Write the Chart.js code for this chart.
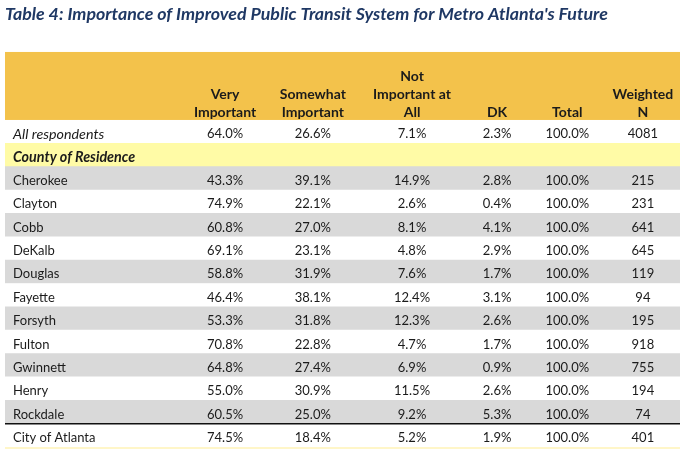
<!DOCTYPE html>
<html>
<head>
<meta charset="utf-8">
<script src="https://cdn.jsdelivr.net/npm/chart.js@4"></script>
<style>
  html, body { margin: 0; padding: 0; background: #ffffff; }
  #wrap { width: 680px; height: 450px; }
</style>
</head>
<body>
<div id="wrap"><canvas id="myChart"></canvas></div>
<script>
// rows of the table (top to bottom)
const rowLabels = ["All respondents", "County of Residence", "Cherokee", "Clayton", "Cobb", "DeKalb",
  "Douglas", "Fayette", "Forsyth", "Fulton", "Gwinnett", "Henry", "Rockdale", "City of Atlanta"];

// column headers
const headerLabels = [["Very", "Important"], ["Somewhat", "Important"], ["Not", "Important at", "All"],
  "DK", "Total", ["Weighted", "N"]];

// values per column (null = section header row)
const veryImportant = [64.0, null, 43.3, 74.9, 60.8, 69.1, 58.8, 46.4, 53.3, 70.8, 64.8, 55.0, 60.5, 74.5];
const somewhatImportant = [26.6, null, 39.1, 22.1, 27.0, 23.1, 31.9, 38.1, 31.8, 22.8, 27.4, 30.9, 25.0, 18.4];
const notImportant = [7.1, null, 14.9, 2.6, 8.1, 4.8, 7.6, 12.4, 12.3, 4.7, 6.9, 11.5, 9.2, 5.2];
const dontKnow = [2.3, null, 2.8, 0.4, 4.1, 2.9, 1.7, 3.1, 2.6, 1.7, 0.9, 2.6, 5.3, 1.9];
const total = [100.0, null, 100.0, 100.0, 100.0, 100.0, 100.0, 100.0, 100.0, 100.0, 100.0, 100.0, 100.0, 100.0];
const weightedN = [4081, null, 215, 231, 641, 645, 119, 94, 195, 918, 755, 194, 74, 401];

// layout: where each value column sits on the 0..100 x scale
const colPos = [32.6, 45.6, 60.3, 72.9, 83.3, 94.5];
const columns = [veryImportant, somewhatImportant, notImportant, dontKnow, total, weightedN];
const isPercent = [true, true, true, true, true, false];

const HEADER = "#F3C24B";
const SECTION = "#FFFBA6";
const GRAY = "#D9D9D9";
const TEXT = "#1b1b1b";
const FONT = "Lato, 'Open Sans', sans-serif";
const rowFill = ["#ffffff", SECTION, GRAY, "#ffffff", GRAY, "#ffffff", GRAY, "#ffffff",
  GRAY, "#ffffff", GRAY, "#ffffff", GRAY, "#ffffff"];
const rowFont = ["italic 14.3px " + FONT, "italic bold 14.3px " + FONT];

Chart.defaults.font.family = FONT;

const tablePlugin = {
  id: "tableCells",
  beforeDraw(chart) {
    const ctx = chart.ctx;
    const x = chart.scales.x;
    ctx.save();
    ctx.fillStyle = HEADER;
    ctx.fillRect(x.left, x.top, x.right - x.left, x.bottom - x.top);
    ctx.restore();
  },
  afterDatasetsDraw(chart) {
    const ctx = chart.ctx;
    const x = chart.scales.x;
    const y = chart.scales.y;
    const area = chart.chartArea;
    ctx.save();
    ctx.fillStyle = TEXT;
    ctx.textBaseline = "middle";
    // row labels from the y axis
    ctx.textAlign = "left";
    y.ticks.forEach((t, i) => {
      ctx.font = rowFont[i] || "13px " + FONT;
      ctx.fillText(y.getLabelForValue(t.value), area.left + 8, y.getPixelForTick(i) + 2.5);
    });
    // cell values
    ctx.font = "13px " + FONT;
    ctx.textAlign = "center";
    columns.forEach((vals, c) => {
      const px = x.getPixelForValue(colPos[c]);
      vals.forEach((v, r) => {
        if (v === null) return;
        const txt = isPercent[c] ? v.toFixed(1) + "%" : String(v);
        ctx.fillText(txt, px, y.getPixelForValue(r) + 2.5);
      });
    });
    // rule above City of Atlanta
    const last = rowLabels.length - 1;
    const yLine = (y.getPixelForValue(last - 1) + y.getPixelForValue(last)) / 2;
    ctx.strokeStyle = "#111111";
    ctx.lineWidth = 1.5;
    ctx.beginPath();
    ctx.moveTo(area.left, yLine);
    ctx.lineTo(area.right, yLine);
    ctx.stroke();
    // thin closing rule
    ctx.strokeStyle = "#FFF6C8";
    ctx.lineWidth = 2;
    ctx.beginPath();
    ctx.moveTo(area.left, area.bottom + 1);
    ctx.lineTo(area.right, area.bottom + 1);
    ctx.stroke();
    ctx.restore();
  }
};

new Chart("myChart", {
  type: "bar",
  data: {
    labels: rowLabels,
    datasets: [{
      data: rowLabels.map(() => [0, 100]),
      backgroundColor: rowFill,
      borderWidth: 0,
      barPercentage: 1,
      categoryPercentage: 1
    }]
  },
  options: {
    indexAxis: "y",
    responsive: true,
    maintainAspectRatio: false,
    animation: false,
    layout: { padding: { left: 5, right: 0, top: 0, bottom: 3 } },
    plugins: {
      legend: { display: false },
      tooltip: { enabled: false },
      title: {
        display: true,
        text: "Table 4: Importance of Improved Public Transit System for Metro Atlanta's Future",
        align: "start",
        color: "#1F3864",
        font: { size: 17.8, weight: "bold", style: "italic", lineHeight: 1.2 },
        padding: { top: 4, bottom: 26.6 }
      }
    },
    scales: {
      x: {
        type: "linear",
        position: "top",
        min: 0,
        max: 100,
        z: 1,
        grid: { display: false, drawTicks: false },
        border: { display: false },
        afterBuildTicks: (scale) => { scale.ticks = colPos.map(v => ({ value: v })); },
        afterFit: (scale) => { scale.height = 68; },
        ticks: {
          autoSkip: false,
          maxRotation: 0,
          padding: -2,
          color: TEXT,
          font: { size: 14, weight: "bold", lineHeight: 18 / 14 },
          callback: (v, i) => headerLabels[i]
        }
      },
      y: {
        type: "category",
        position: "left",
        grid: { display: false, drawTicks: false },
        border: { display: false },
        ticks: { display: false }
      }
    }
  },
  plugins: [tablePlugin]
});
</script>
</body>
</html>
